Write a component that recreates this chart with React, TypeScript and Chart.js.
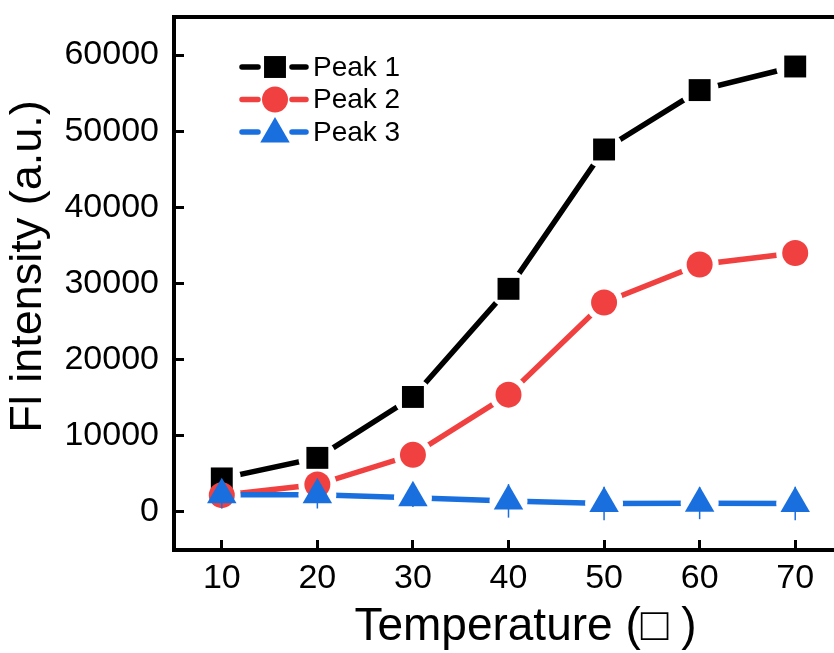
import React, { useEffect, useRef } from 'react';
import { Chart, registerables } from 'chart.js';
import { drawPoint } from 'chart.js/helpers';

Chart.register(...registerables);

// ---- data ----
const temperatures = [10, 20, 30, 40, 50, 60, 70];
const peak1 = [4400, 7100, 15100, 29300, 47600, 55400, 58500];
const peak2 = [2200, 3600, 7500, 15400, 27500, 32500, 34000];
const peak3 = [2250, 2250, 1850, 1450, 1100, 1150, 1100];
const peak3Err = [1800, 1800, 1200, 2200, 2200, 2100, 2200];
const xTicks = [10, 20, 30, 40, 50, 60, 70];
const yTicks = [0, 10000, 20000, 30000, 40000, 50000, 60000];
const seriesNames = ['Peak 1', 'Peak 2', 'Peak 3'];
const seriesValues = [peak1, peak2, peak3];
const seriesColors = ['#000000', '#F14040', '#1A6FDF'];
const seriesMarkers = ['rect', 'circle', 'triangle'];
const markerRadii = [15.5, 13, 17];
const xTitle = 'Temperature (\u25A1 )';
const yTitle = 'Fl intensity (a.u.)';

const FONT = '"Liberation Sans", Arial, sans-serif';
const GAP = 19;
const LINE_W = 5.5;

const gapPlugin = {
  id: 'gapLines',
  beforeDatasetDraw(chart: any, args: any) {
    const ds = chart.data.datasets[args.index];
    if (!ds.gapLine) return;
    const ctx = chart.ctx;
    ctx.save();
    ctx.beginPath();
    ctx.rect(0, 0, chart.width, chart.height);
    args.meta.data.forEach((pt: any) => {
      ctx.moveTo(pt.x + GAP, pt.y);
      ctx.arc(pt.x, pt.y, GAP, 0, Math.PI * 2);
    });
    ctx.clip('evenodd');
  },
  afterDatasetDraw(chart: any, args: any) {
    const ds = chart.data.datasets[args.index];
    if (!ds.gapLine) return;
    chart.ctx.restore();
  },
};

const errorPlugin = {
  id: 'errorBars',
  beforeDatasetDraw(chart: any, args: any) {
    const ds = chart.data.datasets[args.index];
    if (!ds.errors) return;
    const ctx = chart.ctx;
    const xs = chart.scales.x;
    const ys = chart.scales.y;
    ctx.save();
    ctx.strokeStyle = ds.pointBackgroundColor;
    ctx.lineWidth = 1.5;
    ds.data.forEach((p: any, i: number) => {
      const e = ds.errors[i];
      const x = xs.getPixelForValue(p.x);
      ctx.beginPath();
      ctx.moveTo(x, ys.getPixelForValue(p.y - e));
      ctx.lineTo(x, ys.getPixelForValue(p.y + e));
      ctx.stroke();
    });
    ctx.restore();
  },
};

const decorPlugin = {
  id: 'decor',
  afterDraw(chart: any) {
    const ctx = chart.ctx;
    const ca = chart.chartArea;
    ctx.save();
    // legend
    const mx = ca.left + 101;
    seriesNames.forEach((name, i) => {
      const y = ca.top + 50 + i * 32.5;
      ctx.strokeStyle = seriesColors[i];
      ctx.fillStyle = seriesColors[i];
      ctx.lineWidth = LINE_W;
      ctx.lineCap = 'round';
      ctx.beginPath();
      ctx.moveTo(mx - 33, y);
      ctx.lineTo(mx - 17, y);
      ctx.moveTo(mx + 17, y);
      ctx.lineTo(mx + 31, y);
      ctx.stroke();
      const my = seriesMarkers[i] === 'triangle' ? y + 2 : y;
      drawPoint(ctx, { pointStyle: seriesMarkers[i] as any, radius: markerRadii[i], rotation: 0, borderWidth: 0 }, mx, my);
      ctx.fillStyle = '#000';
      ctx.font = `28px ${FONT}`;
      ctx.textAlign = 'left';
      ctx.textBaseline = 'middle';
      ctx.fillText(name, mx + 38, y + 1);
    });
    // axis titles
    ctx.fillStyle = '#000';
    ctx.textAlign = 'center';
    ctx.textBaseline = 'middle';
    ctx.font = `46px ${FONT}`;
    ctx.fillText(xTitle, (ca.left + ca.right) / 2 + 17, 627);
    ctx.translate(29, (ca.top + ca.bottom) / 2 - 17);
    ctx.rotate(-Math.PI / 2);
    ctx.font = `45px ${FONT}`;
    ctx.fillText(yTitle, 0, 0);
    ctx.restore();
  },
};

export default function App() {
  const ref = useRef<HTMLCanvasElement>(null);
  useEffect(() => {
    if (!ref.current) return;
    const datasets: any[] = [];
    seriesValues.forEach((vals, i) => {
      const pts = temperatures.map((t, j) => ({ x: t, y: vals[j] }));
      datasets.push({
        label: seriesNames[i] + ' line',
        data: pts,
        gapLine: true,
        borderColor: seriesColors[i],
        borderWidth: LINE_W,
        borderCapStyle: 'round',
        pointRadius: 0,
        pointHoverRadius: 0,
        tension: 0,
        order: 2 * (3 - i),
      });
      datasets.push({
        label: seriesNames[i],
        data: pts,
        showLine: false,
        errors: i === 2 ? peak3Err : undefined,
        pointStyle: seriesMarkers[i],
        pointRadius: markerRadii[i],
        pointHoverRadius: markerRadii[i],
        pointBackgroundColor: seriesColors[i],
        pointBorderWidth: 0,
        pointHoverBorderWidth: 0,
        order: 2 * (3 - i) - 1,
      });
    });
    const tickFont = { family: FONT, size: 34 };
    const chart = new Chart(ref.current, {
      type: 'line',
      data: { datasets },
      plugins: [gapPlugin, errorPlugin, decorPlugin],
      options: {
        animation: false,
        responsive: false,
        devicePixelRatio: 1,
        events: [],
        layout: { padding: { top: 14, left: 0, right: 17, bottom: 0 } },
        plugins: { legend: { display: false }, tooltip: { enabled: false } },
        scales: {
          x: {
            type: 'linear',
            position: 'bottom',
            min: 5,
            max: 75,
            afterBuildTicks: (s: any) => { s.ticks = xTicks.map((v) => ({ value: v })); },
            afterFit: (s: any) => { s.height = 103; s.paddingLeft = 0; s.paddingRight = 0; },
            grid: { display: true, drawOnChartArea: false, drawTicks: true, tickLength: -10, lineWidth: 3, color: '#000' },
            border: { display: true, width: 4, color: '#000' },
            ticks: { font: tickFont, color: '#000', padding: 18, maxRotation: 0, autoSkip: false, callback: (v: any) => String(v) },
          },
          x2: {
            type: 'linear',
            position: 'top',
            min: 5,
            max: 75,
            afterFit: (s: any) => { s.height = 0; s.paddingLeft = 0; s.paddingRight = 0; },
            grid: { display: true, drawOnChartArea: false, drawTicks: false },
            border: { display: true, width: 4, color: '#000' },
            ticks: { display: false },
          },
          y: {
            type: 'linear',
            position: 'left',
            min: -5000,
            max: 65000,
            afterBuildTicks: (s: any) => { s.ticks = yTicks.map((v) => ({ value: v })); },
            afterFit: (s: any) => { s.width = 174; s.paddingTop = 0; s.paddingBottom = 0; },
            grid: { display: true, drawOnChartArea: false, drawTicks: true, tickLength: -10, lineWidth: 3, color: '#000' },
            border: { display: true, width: 4, color: '#000' },
            ticks: { font: tickFont, color: '#000', padding: 25, autoSkip: false, callback: (v: any) => String(v) },
          },
        },
      } as any,
    });
    return () => chart.destroy();
  }, []);
  return (
    <div style={{ position: 'absolute', left: 0, top: 0, width: 834, height: 653, overflow: 'hidden', background: '#fff' }}>
      <canvas ref={ref} width={860} height={653} style={{ display: 'block', width: 860, height: 653 }} />
    </div>
  );
}
